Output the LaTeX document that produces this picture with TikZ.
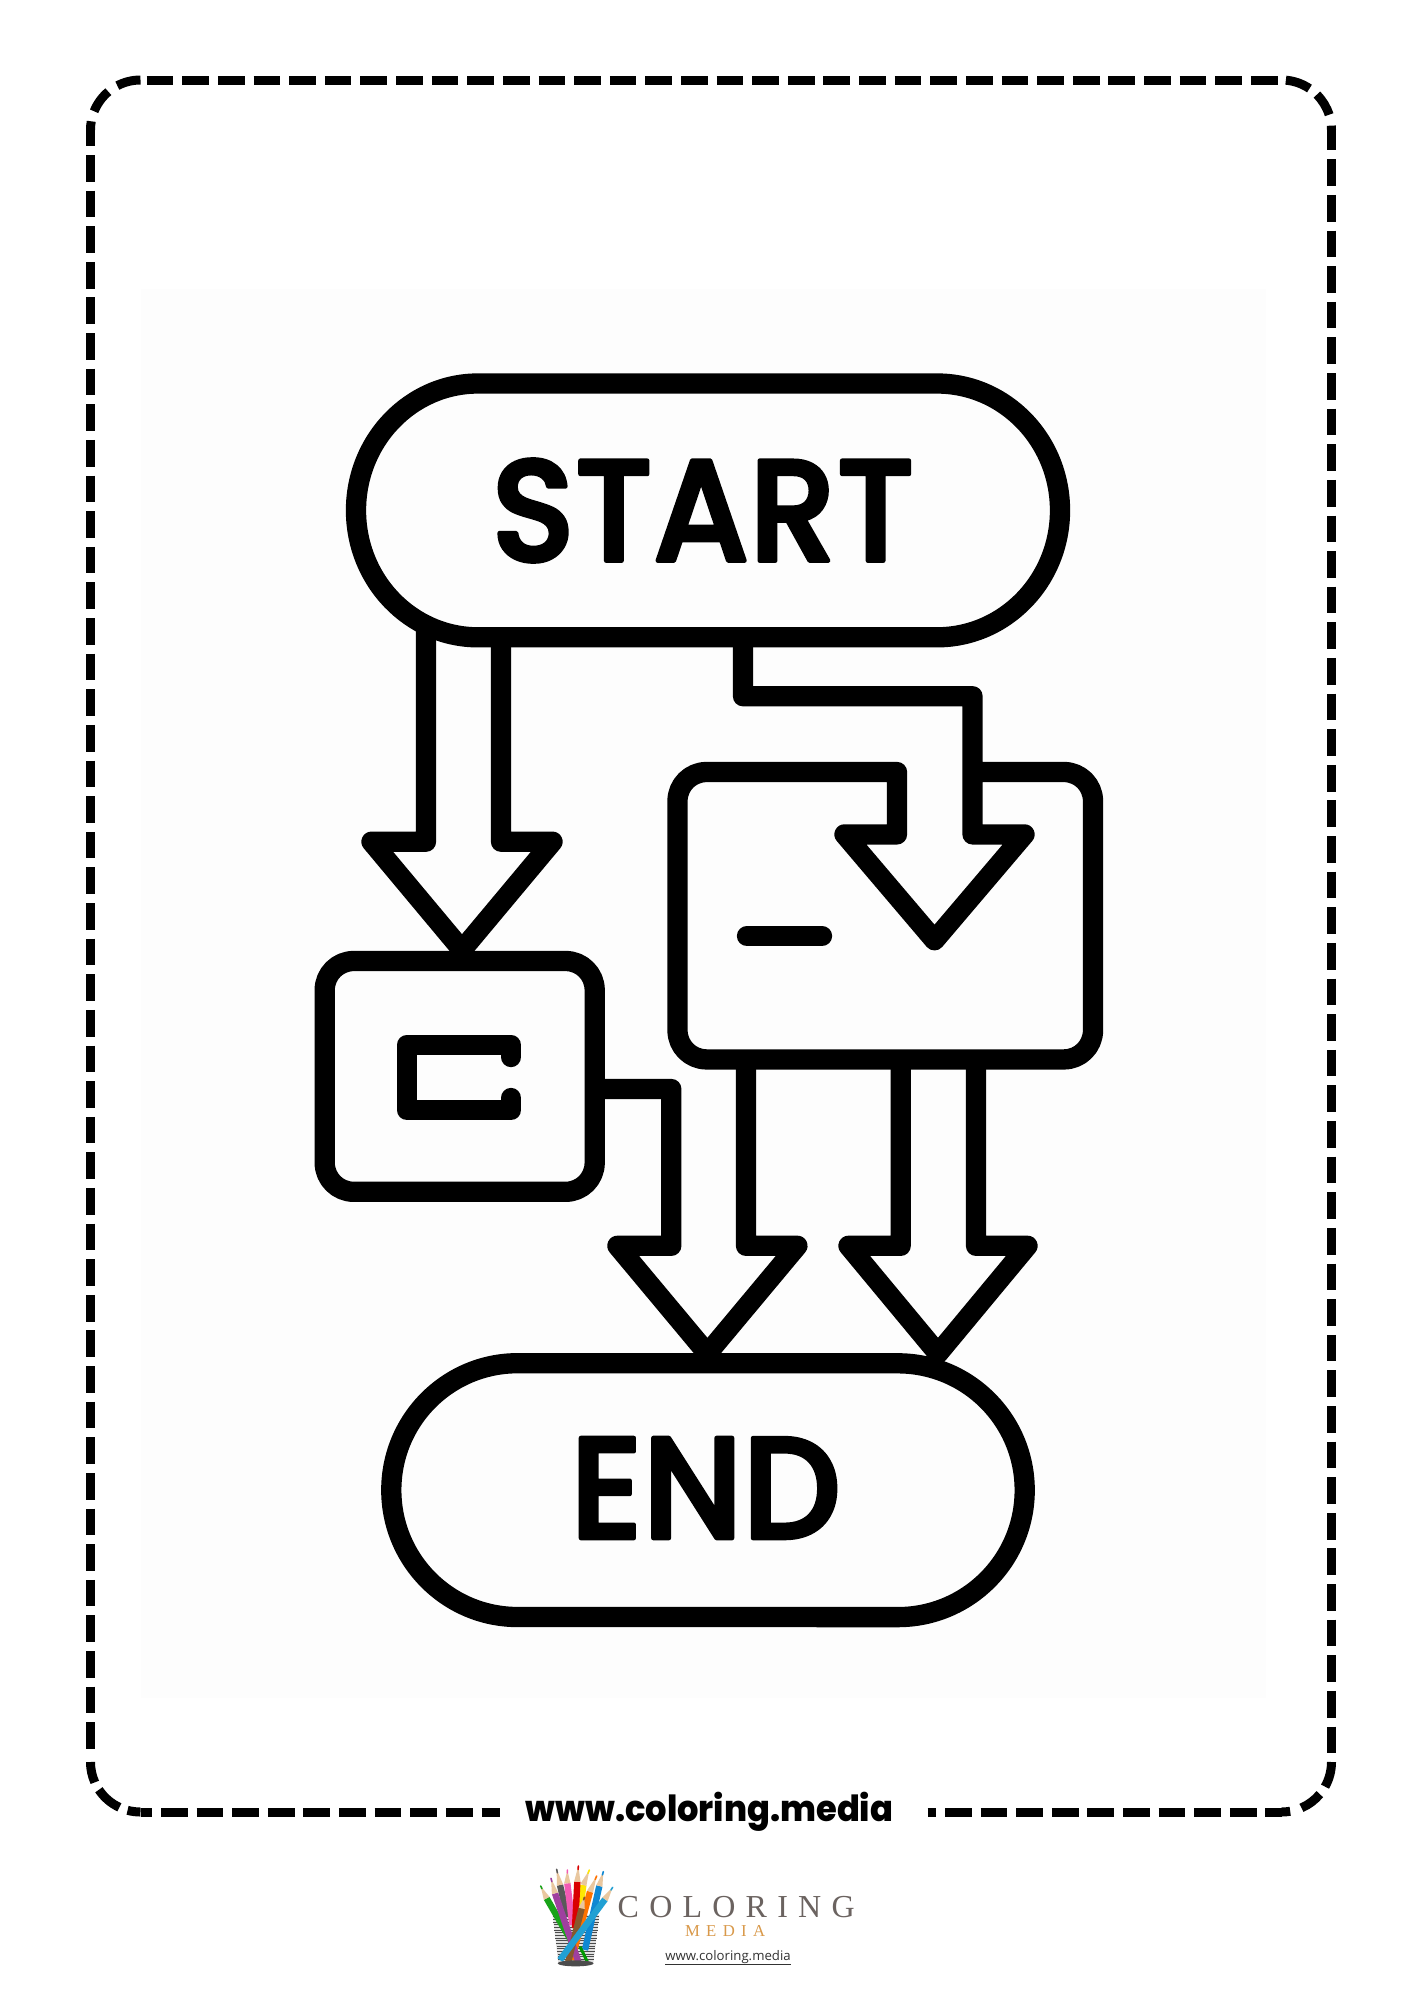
\documentclass[tikz,border=0pt]{standalone}
\usepackage{fontspec}
\usetikzlibrary{calc}
\newfontfamily\popmed[FakeBold=3]{Poppins Medium}
\newfontfamily\popb{Poppins ExtraBold}
\newfontfamily\serifwide[LetterSpace=32]{Liberation Serif}
\newfontfamily\serifwideb[LetterSpace=38]{Liberation Serif}
\newfontfamily\opens{Open Sans}
\definecolor{logogray}{HTML}{6B6360}
\definecolor{logoorange}{HTML}{D9994A}
\definecolor{wood}{HTML}{E9C79F}
\definecolor{faint}{HTML}{FDFDFD}
\tikzset{
  flow/.style={line width=20.3pt,line join=round,line cap=butt,draw=black},
  glyph/.style={flow,line cap=round},
  anchorbox/.style={inner sep=0pt,outer sep=0pt},
  title/.style={anchorbox,font=\popmed\fontsize{144}{144}\selectfont},
  border/.style={line width=9pt,draw=black},
  borderdash/.style={border,dash pattern=on 26.67pt off 8.95pt},
}
% corner piece of the page border: centre x, centre y, from, to (visual degrees)
\newcommand{\cornerpiece}[4]{\draw[border] ({#1+50*cos(#3)},{#2-50*sin(#3)}) arc[start angle={-(#3)},end angle={-(#4)},radius=50];}
% pencil of the logo: tip, wood end, body end, colour
\newcommand{\pencil}[4]{%
  \draw[line width=6.4pt,draw=#4] (#2) -- (#3);
  \fill[wood] ($(#2)!3.2pt!90:(#1)$) -- (#1) -- ($(#2)!3.2pt!-90:(#1)$) -- cycle;
  \draw[line width=1.6pt,draw=#4,line cap=round] (#1) -- ($(#1)!.22!(#2)$);
}
\begin{document}
\begin{tikzpicture}[x=1pt,y=-1pt]
\useasboundingbox (0,0) rectangle (1414,2000);
\fill[white] (0,0) rectangle (1414,2000);
\fill[faint] (141,289) rectangle (1266,1698);
% page border
\draw[borderdash] (146.7,80) -- (1277.7,80);
\draw[borderdash] (90.5,155) -- (90.5,1750);
\draw[borderdash] (1331.5,159.3) -- (1331.5,1754);
\draw[borderdash] (161,1812) -- (500,1812);
\draw[borderdash] (945,1812) -- (1256.7,1812);
\draw[border] (927.7,1812) -- (936,1812);
\cornerpiece{140.5}{130}{90}{117.6}
\cornerpiece{140.5}{130}{130}{158}
\cornerpiece{140.5}{130}{170}{180}
\draw[border] (90.5,130) -- (90.5,146);
\cornerpiece{1281.5}{130}{85}{56}
\cornerpiece{1281.5}{130}{45}{17.8}
\cornerpiece{1281.5}{130}{5}{0}
\draw[border] (1331.5,130) -- (1331.5,150);
\cornerpiece{1281.5}{1762}{0}{-29.5}
\cornerpiece{1281.5}{1762}{-40}{-66.5}
\cornerpiece{1281.5}{1762}{-80}{-90}
\draw[border] (1281.5,1812) -- (1265,1812);
\cornerpiece{140.5}{1762}{180}{204}
\cornerpiece{140.5}{1762}{213.7}{245}
\cornerpiece{140.5}{1762}{255}{270}
\draw[border] (140.5,1812) -- (151.7,1812);
% the flowchart
\draw[flow] (478,383.5) -- (937,383.5) arc[start angle=-90,end angle=90,x radius=123,y radius=126.9]
   -- (478,637.3) arc[start angle=90,end angle=270,x radius=122,y radius=126.9] -- cycle;
\node[title] (start) at (703,510.5) {\special{pdf:code 1 j}\scalebox{0.96}[1]{START}};
\draw[flow] (517.6,1363.3) -- (897.8,1363.3) arc[start angle=-90,end angle=90,x radius=126.9,y radius=126.9]
   -- (517.6,1617) arc[start angle=90,end angle=270,x radius=126.3,y radius=126.9] -- cycle;
\node[title] (end) at (705.5,1488) {\special{pdf:code 1 j}\scalebox{0.96}[1]{END}};
% left box
\node[flow,draw,anchorbox,rounded corners=29pt,minimum width=270pt,minimum height=230.8pt] (boxL) at (459.7,1076.4) {};
\draw[glyph] (511,1057) -- (511,1045) -- (407,1045) -- (407,1110) -- (511,1110) -- (511,1098);
\draw[glyph] (747,936) -- (822,936);
% arrow from START to the left box
\coordinate (s1) at (426,630);
\coordinate (s2) at (501,637.3);
\draw[flow] (s1) -- (426,841.7) -- (371.5,841.7) -- (462,950) -- (552.5,841.7) -- (501,841.7) -- (s2);
% arrow from START into the right box, running on as the box outline
\coordinate (s3) at (743,637.3);
\coordinate (boxRb) at (972.5,772);
\draw[flow] (s3) -- (743,696.2) -- (972.5,696.2) -- (972.5,834.4) -- (1024.5,834.4) -- (934.5,940.3) -- (844.5,834.4) -- (897,834.4)
   -- (897,772) -- (706.5,772) arc[start angle=-90,end angle=-180,radius=29] -- (677.5,1030.4)
   arc[start angle=180,end angle=90,radius=29] -- (1064,1059.4) arc[start angle=90,end angle=0,radius=29]
   -- (1093,801) arc[start angle=0,end angle=-90,radius=29] -- (boxRb);
% arrow from the left box to END
\coordinate (b1) at (594.7,1089);
\coordinate (r1) at (746,1059.4);
\draw[flow] (b1) -- (671.3,1089) -- (671.3,1245.8) -- (617.4,1245.8) -- (707.4,1353.6) -- (797.4,1245.8) -- (746,1245.8) -- (r1);
% second arrow to END
\coordinate (r2) at (900.7,1059.4);
\coordinate (r3) at (976,1059.4);
\draw[flow] (r2) -- (900.7,1245.8) -- (848.5,1245.8) -- (938,1353.6) -- (1027.5,1245.8) -- (976,1245.8) -- (r3);
% footer
\node[anchorbox,anchor=base,font=\popb\fontsize{36}{36}\selectfont] (url) at (709.5,1821) {\scalebox{0.935}[1]{www.coloring.media}};
% logo
\begin{scope}[shift={(530,1850)},x=0.3333pt,y=-0.3333pt]
  \fill[black!12] (68,195) -- (208,195) -- (190,340) -- (85,340) -- cycle;
  \foreach \i in {0,...,16}{
    \draw[black!70,line width=0.8pt] ({68+\i*1.05},{200+\i*8}) -- ({208-\i*1.05},{200+\i*8});
  }
  \coordinate (g1) at (32,108); \coordinate (g2) at (50,145); \coordinate (g3) at (125,275);
  \pencil{g1}{g2}{g3}{green!60!black!90!white}
  \coordinate (k1) at (80,58); \coordinate (k2) at (90,105); \coordinate (k3) at (112,200);
  \pencil{k1}{k2}{k3}{black!65}
  \coordinate (y1) at (178,60); \coordinate (y2) at (160,105); \coordinate (y3) at (150,185);
  \pencil{y1}{y2}{y3}{yellow!90!orange}
  \coordinate (b1) at (220,65); \coordinate (b2) at (208,108); \coordinate (b3) at (165,300);
  \pencil{b1}{b2}{b3}{cyan!70!blue}
  \coordinate (p1) at (112,60); \coordinate (p2) at (112,100); \coordinate (p3) at (127,225);
  \pencil{p1}{p2}{p3}{magenta!65!white}
  \coordinate (r1) at (145,48); \coordinate (r2) at (142,95); \coordinate (r3) at (135,235);
  \pencil{r1}{r2}{r3}{red!85!black}
  \coordinate (o1) at (200,78); \coordinate (o2) at (180,125); \coordinate (o3) at (125,330);
  \pencil{o1}{o2}{o3}{orange!90!red}
  \coordinate (v1) at (63,85); \coordinate (v2) at (75,130); \coordinate (v3) at (145,335);
  \pencil{v1}{v2}{v3}{violet!75!white}
  \coordinate (n1) at (163,142); \coordinate (n2) at (155,175); \coordinate (n3) at (115,335);
  \pencil{n1}{n2}{n3}{brown!70!black}
  \coordinate (t1) at (248,112); \coordinate (t2) at (225,148); \coordinate (t3) at (90,330);
  \pencil{t1}{t2}{t3}{cyan!70!teal}
  \draw[line width=3pt,draw=green!60!black] (150,290) -- (172,335);
  \fill[black!70] (137,340) ellipse[x radius=54,y radius=9];
\end{scope}
\node[anchorbox,anchor=base west,text=logogray,font=\serifwide\fontsize{32}{32}\selectfont] (logoa) at (617.7,1917) {COLORING};
\node[anchorbox,anchor=base west,text=logoorange,font=\serifwideb\fontsize{16.7}{17}\selectfont] (logob) at (685,1936) {MEDIA};
\node[anchorbox,anchor=base,text=black!80,font=\opens\fontsize{13.2}{14}\selectfont] (logoc) at (728,1960) {\underline{www.coloring.media}};
\end{tikzpicture}
\end{document}
